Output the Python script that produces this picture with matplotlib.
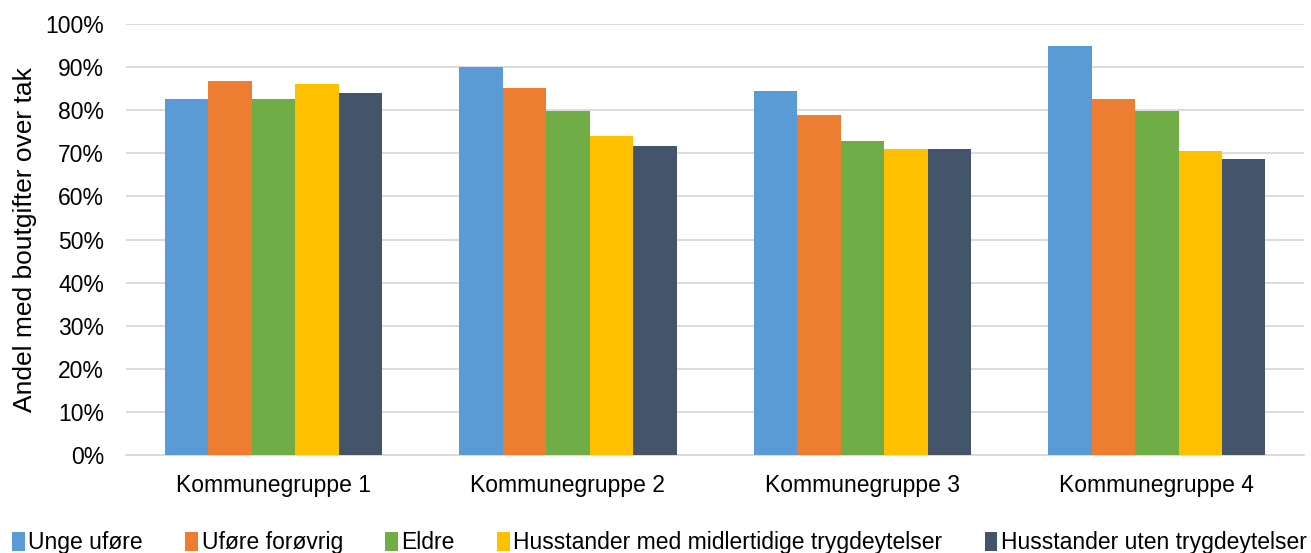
import matplotlib.pyplot as plt
import numpy as np
from matplotlib.ticker import PercentFormatter

plt.rcParams['font.family'] = ['Liberation Sans', 'DejaVu Sans']

grupper = ['Kommunegruppe 1', 'Kommunegruppe 2', 'Kommunegruppe 3', 'Kommunegruppe 4']
serier = ['Unge uføre', 'Uføre forøvrig', 'Eldre',
          'Husstander med midlertidige trygdeytelser', 'Husstander uten trygdeytelser']
unge_ufore = [0.825, 0.900, 0.845, 0.950]
ufore_forovrig = [0.868, 0.851, 0.789, 0.825]
eldre = [0.825, 0.797, 0.729, 0.797]
midlertidige = [0.861, 0.740, 0.710, 0.705]
uten_trygd = [0.841, 0.717, 0.710, 0.687]
farger = ['#5B9BD5', '#ED7D31', '#70AD47', '#FFC000', '#44546A']

verdier = [unge_ufore, ufore_forovrig, eldre, midlertidige, uten_trygd]

fig = plt.figure(figsize=(13.11, 5.53), dpi=100)
ax = fig.add_axes([0.0963, 0.1772, 0.8984, 0.7794])

idx = np.arange(len(grupper))
bw = 0.1475
for i, (navn, v) in enumerate(zip(serier, verdier)):
    ax.bar(idx + (i - 2) * bw, v, bw, color=farger[i], label=navn, zorder=3)

ax.set_xlim(-0.5, 3.5)
ax.set_ylim(0, 1.0)
ax.set_yticks(np.arange(0, 1.01, 0.1))
ax.yaxis.set_major_formatter(PercentFormatter(1.0, decimals=0))
ax.set_xticks(idx)
ax.set_xticklabels(grupper)
ax.tick_params(axis='both', length=0, labelsize=16.5, colors='black')
ax.tick_params(axis='y', pad=16)
ax.tick_params(axis='x', pad=14)
ax.grid(True, axis='y', color='#D9D9D9', lw=1.3, zorder=0)
for s in ['left', 'right', 'top']:
    ax.spines[s].set_visible(False)
ax.spines['bottom'].set_color('#D9D9D9')
ax.spines['bottom'].set_linewidth(1.3)
ax.set_ylabel('Andel med boutgifter over tak', fontsize=19, labelpad=6)

fig.legend(loc='lower center', bbox_to_anchor=(0.503, -0.04), ncol=5, frameon=False,
           fontsize=16.5, handlelength=0.55, handleheight=0.9, handletextpad=0.15,
           columnspacing=1.85)

fig.savefig('out.png', dpi=100)
